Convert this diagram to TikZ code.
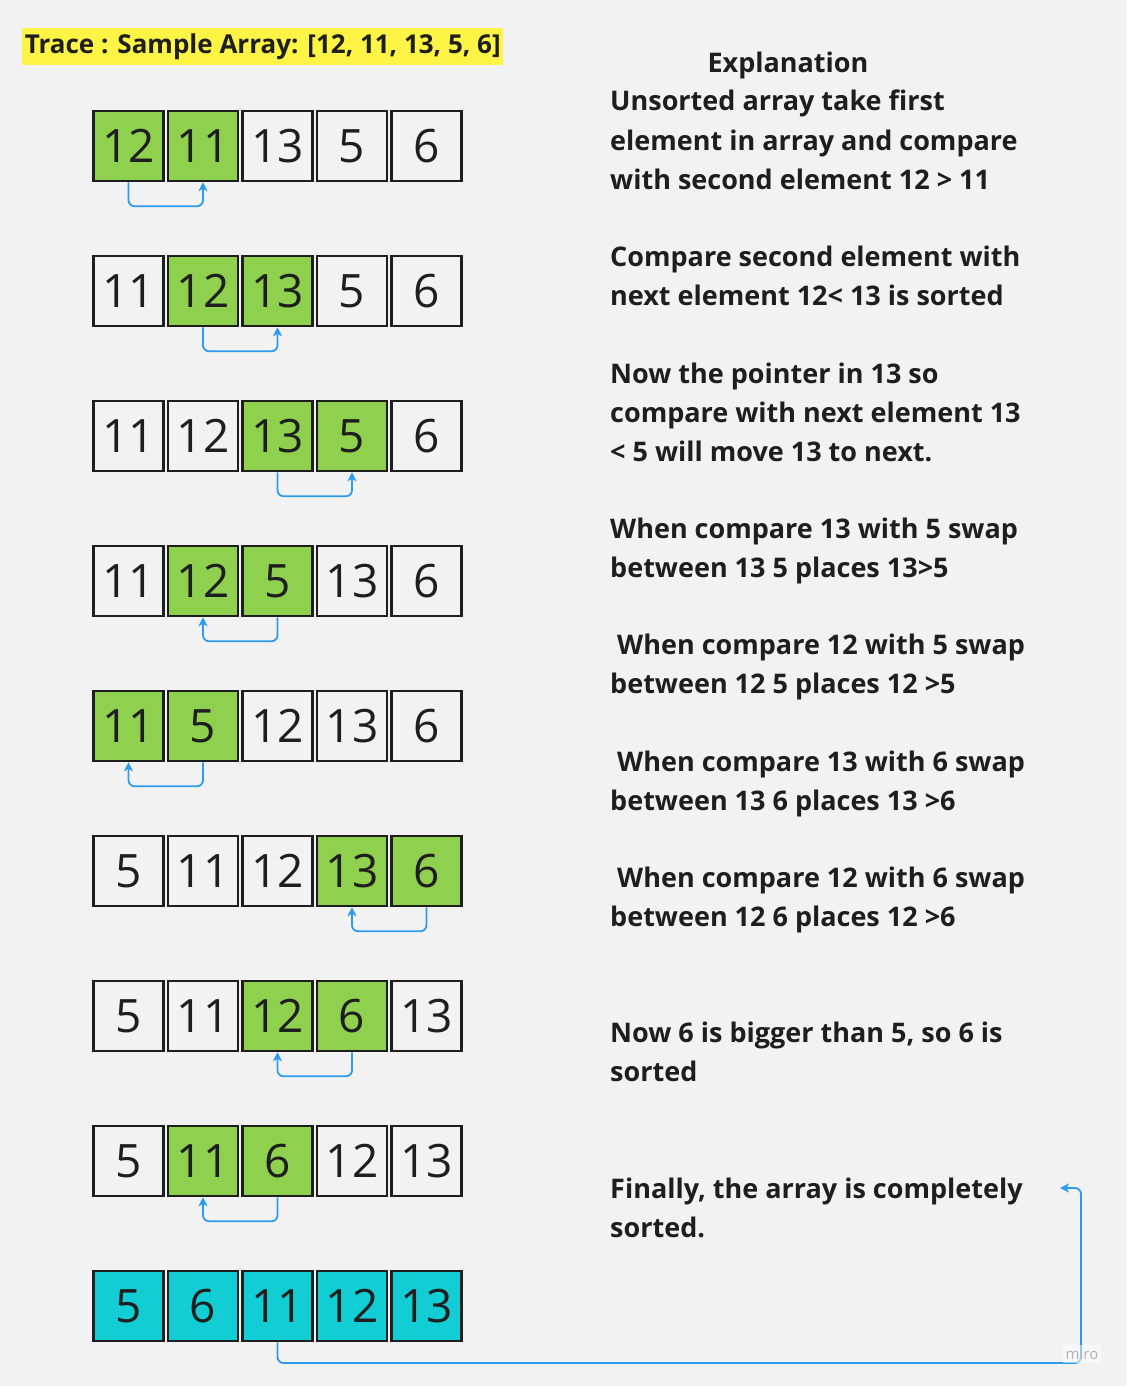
\documentclass[tikz,border=0pt]{standalone}
\usepackage{fontspec}
\setmainfont{Open Sans}
\usetikzlibrary{positioning, arrows.meta}
\usepackage{xcolor}
\definecolor{bg}{HTML}{F2F2F2}
\definecolor{mirogreen}{HTML}{8FD14F}
\definecolor{miroteal}{HTML}{12CDD4}
\definecolor{miroblue}{HTML}{2D9BF0}
\definecolor{miroyellow}{HTML}{FEF445}
\definecolor{ink}{HTML}{1E1E1E}
\tikzset{
	>={Stealth[length=9pt, width=9pt, inset=2.5pt]},
	cell/.style={draw=ink, line width=2.5pt, minimum size=70pt, inner sep=0pt,
		font=\fontsize{46}{46}\selectfont, text=ink},
	swap/.style={->, draw=miroblue, line width=1.8pt, rounded corners=6pt},
	note/.style={anchor=base west, align=left, inner sep=0pt, text=ink,
		font=\fontsize{27}{39}\selectfont\bfseries}}

\begin{document}
\begin{tikzpicture}[x=1pt, y=-1pt]
		\fill[bg] (0,0) rectangle (1127,1386);
		\useasboundingbox (0,0) rectangle (1127,1386);
		
		\node[fill=miroyellow, anchor=north west, minimum width=481pt, minimum height=37pt,
			inner sep=0pt, text=ink, font=\fontsize{26}{26}\selectfont\bfseries]
			(title) at (22,28) {Trace : Sample Array: [12, 11, 13, 5, 6]};
		
		% the array after each step
		\foreach \r/\vals in {
			1/{12/mirogreen,11/mirogreen,13/bg,5/bg,6/bg},
			2/{11/bg,12/mirogreen,13/mirogreen,5/bg,6/bg},
			3/{11/bg,12/bg,13/mirogreen,5/mirogreen,6/bg},
			4/{11/bg,12/mirogreen,5/mirogreen,13/bg,6/bg},
			5/{11/mirogreen,5/mirogreen,12/bg,13/bg,6/bg},
			6/{5/bg,11/bg,12/bg,13/mirogreen,6/mirogreen},
			7/{5/bg,11/bg,12/mirogreen,6/mirogreen,13/bg},
			8/{5/bg,11/mirogreen,6/mirogreen,12/bg,13/bg},
			9/{5/miroteal,6/miroteal,11/miroteal,12/miroteal,13/miroteal}}
			\foreach \v/\f [count=\c] in \vals
				\node[cell, fill=\f] (c\r-\c) at ({128.5+74.5*(\c-1)}, {146+145*(\r-1)}) {\v};
		
		\foreach \r/\a/\b in {1/1/2, 2/2/3, 3/3/4, 4/3/2, 5/2/1, 6/5/4, 7/4/3, 8/3/2}
			\draw[swap] (c\r-\a.south) -- ++(0,24) -| (c\r-\b.south);
		
		% explanation (base = last line)
		\node[note, anchor=base] (head) at (788,73) {Explanation};
		\node[note] (n1) at (610,189) {Unsorted array take first\\element in array and compare\\with second element 12 > 11};
		\node[note] (n2) at (610,305) {Compare second element with\\next element 12< 13 is sorted};
		\node[note] (n3) at (610,461) {Now the pointer in 13 so\\compare with next element 13\\< 5 will move 13 to next.};
		\node[note] (n4) at (610,577) {When compare 13 with 5 swap\\between 13 5 places 13>5};
		\node[note] (n5) at (610,693) {\ When compare 12 with 5 swap\\between 12 5 places 12 >5};
		\node[note] (n6) at (610,810) {\ When compare 13 with 6 swap\\between 13 6 places 13 >6};
		\node[note] (n7) at (610,926) {\ When compare 12 with 6 swap\\between 12 6 places 12 >6};
		\node[note] (n8) at (610,1081) {Now 6 is bigger than 5, so 6 is\\sorted};
		\node[note] (n9) at (610,1237) {Finally, the array is completely\\sorted.};
		
		\coordinate (bend) at (1081,1363);
		\coordinate (fin) at (1060,1188);
		\draw[swap] (c9-3.south) |- (bend) |- (fin);
		
		\node[fill=white, fill opacity=0.5, text opacity=1, text=gray!60, inner sep=3pt,
			font=\fontsize{15}{15}\selectfont] (mark) at (1082,1354) {miro};
	\end{tikzpicture}
\end{document}
